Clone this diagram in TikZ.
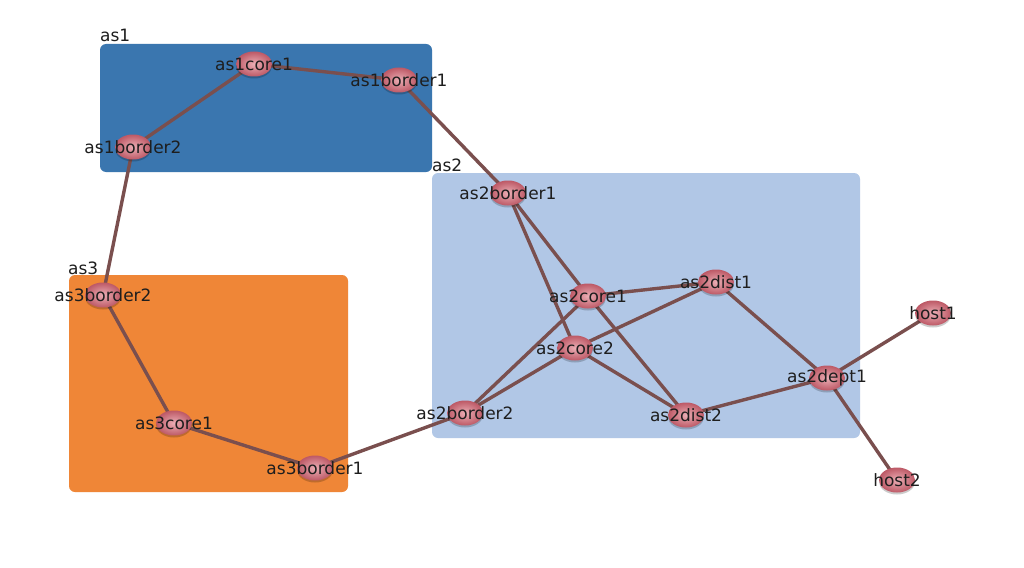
\documentclass[tikz,border=0pt]{standalone}
\usepackage{fontspec}
\setmainfont{DejaVu Sans}
\usetikzlibrary{shapes.geometric,shadows}
\pgfdeclarelayer{bg}
\pgfdeclarelayer{edges}
\pgfsetlayers{bg,edges,main}
\definecolor{asone}{HTML}{3A76AF}
\definecolor{astwo}{HTML}{B1C7E6}
\definecolor{asthree}{HTML}{EF8637}
\definecolor{linkc}{HTML}{7A4F4E}
\definecolor{rin}{HTML}{EBAEB5}
\definecolor{rout}{HTML}{BD5966}
\definecolor{txt}{HTML}{1E1E1E}
\tikzset{
  x=1pt, y=-1pt,
  asbox/.style={rounded corners=6pt, draw=none},
  aslabel/.style={anchor=base west, inner sep=0pt, font=\fontsize{17}{19}\selectfont, text=txt},
  router/.style={ellipse, minimum width=36pt, minimum height=25pt, inner sep=0pt,
    draw=none, inner color=rin, outer color=rout,
    drop shadow={shadow xshift=0pt, shadow yshift=-2pt, opacity=0.2, fill=black},
    label={[lbl]center:#1}},
  lbl/.style={inner sep=0pt, font=\fontsize{17}{19}\selectfont, text=txt},
  link/.style={draw=linkc, line width=3.4pt}
}
\begin{document}
\begin{tikzpicture}
\useasboundingbox (0,0) rectangle (1024,567);
\begin{pgfonlayer}{bg}
  \fill[white] (0,0) rectangle (1024,567);
  \fill[asbox, asone] (100,44) rectangle (432,172);
  \fill[asbox, astwo] (432,173) rectangle (860,438);
  \fill[asbox, asthree] (69,275) rectangle (348,492);
\end{pgfonlayer}
\node[aslabel] (l1) at (100,42) {as1};
\node[aslabel] (l2) at (432,171) {as2};
\node[aslabel] (l3) at (68,274) {as3};

\node[router=as1core1] (a1c1) at (254,64) {};
\node[router=as1border1] (a1b1) at (399,80) {};
\node[router=as1border2] (a1b2) at (133,147) {};
\node[router=as2border1] (a2b1) at (508,193) {};
\node[router=as2core1] (a2c1) at (588,296) {};
\node[router=as2core2] (a2c2) at (575,348) {};
\node[router=as2dist1] (a2d1) at (716,282) {};
\node[router=as2dist2] (a2d2) at (686,415) {};
\node[router=as2border2] (a2b2) at (465,413) {};
\node[router=as2dept1] (a2p1) at (827,378) {};
\node[router=host1] (h1) at (933,313) {};
\node[router=host2] (h2) at (897,480) {};
\node[router=as3border2] (a3b2) at (103,295) {};
\node[router=as3core1] (a3c1) at (174,423) {};
\node[router=as3border1] (a3b1) at (315,468) {};

\begin{pgfonlayer}{edges}
\draw[link] (a1c1.center) -- (a1b1.center);
\draw[link] (a1c1.center) -- (a1b2.center);
\draw[link] (a1b1.center) -- (a2b1.center);
\draw[link] (a1b2.center) -- (a3b2.center);
\draw[link] (a3b2.center) -- (a3c1.center);
\draw[link] (a3c1.center) -- (a3b1.center);
\draw[link] (a3b1.center) -- (a2b2.center);
\draw[link] (a2b1.center) -- (a2c1.center);
\draw[link] (a2b1.center) -- (a2c2.center);
\draw[link] (a2c1.center) -- (a2d1.center);
\draw[link] (a2c1.center) -- (a2b2.center);
\draw[link] (a2c1.center) -- (a2d2.center);
\draw[link] (a2c2.center) -- (a2d1.center);
\draw[link] (a2c2.center) -- (a2b2.center);
\draw[link] (a2c2.center) -- (a2d2.center);
\draw[link] (a2d1.center) -- (a2p1.center);
\draw[link] (a2d2.center) -- (a2p1.center);
\draw[link] (a2p1.center) -- (h1.center);
\draw[link] (a2p1.center) -- (h2.center);
\end{pgfonlayer}
\end{tikzpicture}
\end{document}
